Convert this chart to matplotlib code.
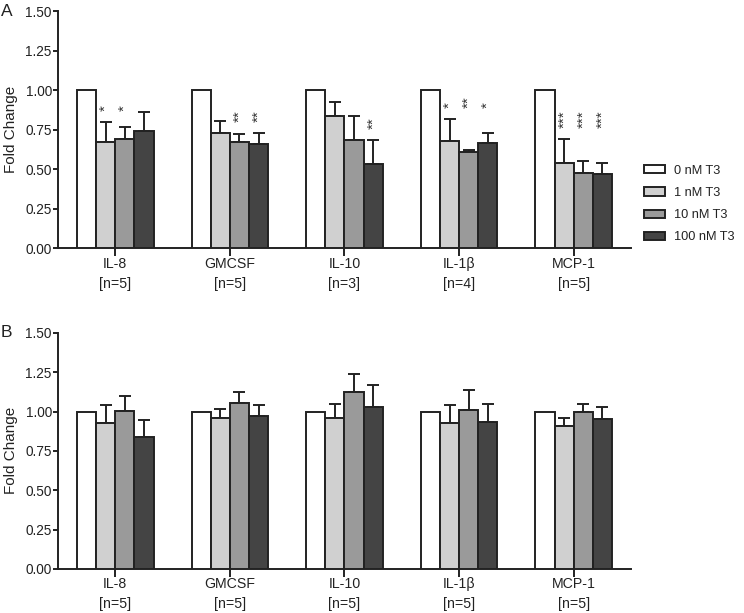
import numpy as np
import matplotlib
matplotlib.use("Agg")
import matplotlib.pyplot as plt

plt.rcParams['font.family'] = ['Liberation Sans', 'DejaVu Sans']

# ---- data ----
cytokines = ["IL-8", "GMCSF", "IL-10", "IL-1β", "MCP-1"]
n_a = [5, 5, 3, 4, 5]
n_b = [5, 5, 5, 5, 5]
doses = ["0 nM T3", "1 nM T3", "10 nM T3", "100 nM T3"]

# panel A (fold change, upper SEM)
a_0nm = [1.0, 1.0, 1.0, 1.0, 1.0]
a_1nm = [0.672, 0.731, 0.835, 0.677, 0.539]
a_10nm = [0.693, 0.674, 0.685, 0.609, 0.478]
a_100nm = [0.742, 0.660, 0.535, 0.664, 0.469]
a_1nm_err = [0.128, 0.074, 0.087, 0.141, 0.150]
a_10nm_err = [0.072, 0.051, 0.152, 0.013, 0.074]
a_100nm_err = [0.118, 0.071, 0.152, 0.067, 0.068]
a_1nm_sig = ["*", "", "", "*", "***"]
a_10nm_sig = ["*", "**", "", "**", "***"]
a_100nm_sig = ["", "**", "**", "*", "***"]

# panel B
b_0nm = [1.0, 1.0, 1.0, 1.0, 1.0]
b_1nm = [0.928, 0.960, 0.960, 0.928, 0.905]
b_10nm = [1.006, 1.053, 1.127, 1.008, 1.000]
b_100nm = [0.835, 0.972, 1.028, 0.932, 0.953]
b_1nm_err = [0.112, 0.057, 0.087, 0.116, 0.053]
b_10nm_err = [0.091, 0.074, 0.113, 0.130, 0.047]
b_100nm_err = [0.110, 0.072, 0.139, 0.119, 0.075]

colors = ["white", "#d0d0d0", "#9a9a9a", "#444444"]
edge = "#222222"
width = 1 / 6


def draw_panel(ax, series, errs, sigs, ns, letter):
    x = np.arange(len(cytokines))
    offsets = (np.arange(4) - 1.5) * width
    for k in range(4):
        ax.bar(x + offsets[k], series[k], width, color=colors[k], edgecolor=edge,
               linewidth=1.4, label=doses[k], zorder=3)
        if k > 0:
            ax.errorbar(x + offsets[k], series[k],
                        yerr=[np.zeros(len(x)), errs[k - 1]], fmt="none",
                        ecolor=edge, elinewidth=1.4, capsize=4.5, capthick=1.4,
                        zorder=2)
    if sigs is not None:
        for i in range(len(x)):
            tops = [series[k + 1][i] + errs[k][i] for k in range(3) if sigs[k][i]]
            if not tops:
                continue
            level = max(tops) + 0.07
            for k in range(3):
                if sigs[k][i]:
                    ax.text(x[i] + offsets[k + 1], level, sigs[k][i], rotation=90,
                            ha="center", va="bottom", fontsize=11, color="#333333")

    ax.set_xlim(-0.5, len(x) - 0.5)
    ax.set_ylim(0, 1.5)
    ax.set_yticks(np.arange(0, 1.51, 0.25))
    ax.set_yticklabels([f"{v:.2f}" for v in np.arange(0, 1.51, 0.25)])
    ax.set_xticks(x)
    ax.set_xticklabels([f"{c}\n[n={n}]" for c, n in zip(cytokines, ns)],
                       linespacing=1.55)
    for s in ["top", "right"]:
        ax.spines[s].set_visible(False)
    for s in ["left", "bottom"]:
        ax.spines[s].set_linewidth(1.4)
        ax.spines[s].set_color(edge)
    ax.tick_params(axis="y", length=3.5, width=1.4, labelsize=9.8, colors=edge, pad=1)
    ax.tick_params(axis="x", length=6, width=1.4, labelsize=10.2, colors=edge, pad=0)
    ax.set_ylabel("Fold Change", fontsize=11, color=edge, labelpad=5)
    ax.text(-0.1, 1.0, letter, transform=ax.transAxes, fontsize=12.5,
            ha="left", va="center", color=edge)


fig = plt.figure(figsize=(7.44, 6.13), dpi=100)
ax_a = fig.add_axes([0.078, 0.595, 0.770, 0.387])
ax_b = fig.add_axes([0.078, 0.072, 0.770, 0.385])

draw_panel(ax_a, [a_0nm, a_1nm, a_10nm, a_100nm],
           [a_1nm_err, a_10nm_err, a_100nm_err],
           [a_1nm_sig, a_10nm_sig, a_100nm_sig], n_a, "A")
draw_panel(ax_b, [b_0nm, b_1nm, b_10nm, b_100nm],
           [b_1nm_err, b_10nm_err, b_100nm_err], None, n_b, "B")

handles, labels = ax_a.get_legend_handles_labels()
fig.legend(handles, labels, loc="center left", bbox_to_anchor=(0.866, 0.667),
           frameon=False, fontsize=9.2, handlelength=1.6, handleheight=0.6,
           handletextpad=0.7, labelspacing=0.8, labelcolor=edge,
           borderpad=0, borderaxespad=0)

fig.savefig("out.png", dpi=100)
